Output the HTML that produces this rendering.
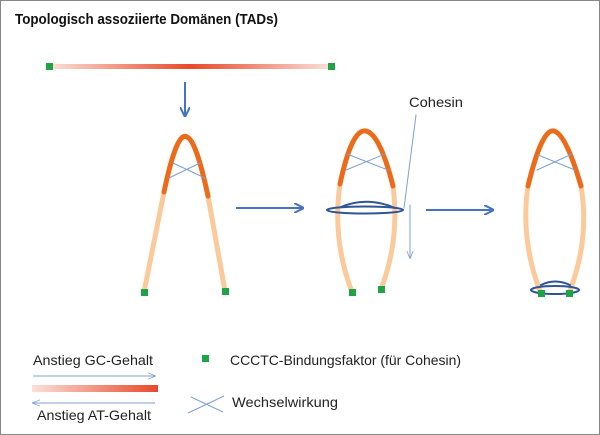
<!DOCTYPE html>
<html><head><meta charset="utf-8"><style>
html,body{margin:0;padding:0;background:#fff}
svg{display:block}
text{font-family:"Liberation Sans",sans-serif}
</style></head><body>
<svg width="600" height="435" viewBox="0 0 600 435">
<defs>
<linearGradient id="g1" x1="0" x2="1"><stop offset="0" stop-color="#fbe0da"/><stop offset="0.5" stop-color="#e8492a"/><stop offset="1" stop-color="#fbe0da"/></linearGradient>
<linearGradient id="g2" x1="0" x2="1"><stop offset="0" stop-color="#fbe0da"/><stop offset="1" stop-color="#e8492a"/></linearGradient>
<marker id="a" viewBox="0 0 10 10" refX="9" refY="5" markerWidth="5" markerHeight="5" orient="auto"><path d="M0,0 L10,5 L0,10" fill="none" stroke="#4472c4" stroke-width="2"/></marker>
<marker id="t" viewBox="0 0 10 10" refX="9" refY="5" markerWidth="8" markerHeight="8" orient="auto"><path d="M0,1 L10,5 L0,9" fill="none" stroke="#7f9fd2" stroke-width="1"/></marker>
</defs>
<rect x="0.5" y="0.5" width="599" height="434" fill="#fff" stroke="#888"/>
<text x="15" y="24" font-size="15" font-weight="bold" fill="#111" textLength="263" lengthAdjust="spacingAndGlyphs">Topologisch assoziierte Domänen (TADs)</text>
<rect x="49" y="64" width="282" height="5" fill="url(#g1)"/>
<rect x="46" y="63" width="7" height="7" fill="#1fa347"/>
<rect x="328" y="63" width="7" height="7" fill="#1fa347"/>
<line x1="185" y1="82" x2="185" y2="116" stroke="#4472c4" stroke-width="2" marker-end="url(#a)"/>
<!-- shape 1 -->
<g fill="none" stroke-linecap="round">
<path d="M164,192 L144,292 M208,196 L225,291" stroke="#fbc99a" stroke-width="5"/>
<path d="M164,192 Q177,130 187,137 Q196,140 208,196" stroke="#ec6b1a" stroke-width="5"/>
<path d="M173,163 L205,178 M169,178 L200,163" stroke="#7f9fd2" stroke-width="1"/>
</g>
<rect x="141" y="289" width="7" height="7" fill="#1fa347"/>
<rect x="222" y="288" width="7" height="7" fill="#1fa347"/>
<line x1="236" y1="208" x2="303" y2="208" stroke="#4472c4" stroke-width="2" marker-end="url(#a)"/>
<!-- shape 2 -->
<g fill="none" stroke-linecap="round">
<path d="M340,184 Q332,240 352,292 M393,186 Q400,240 381,289" stroke="#fbc99a" stroke-width="5"/>
<path d="M340,184 Q352,128 366,131 Q380,134 393,186" stroke="#ec6b1a" stroke-width="5"/>
<path d="M347,154 L388,170 M346,170 L385,154" stroke="#7f9fd2" stroke-width="1"/>
<ellipse cx="365" cy="210" rx="38" ry="3.5" stroke="#2f5597" stroke-width="2"/>
<path d="M341,207 Q367,196 395,208" stroke="#2f5597" stroke-width="2"/>
<line x1="416" y1="115" x2="404" y2="208" stroke="#7f9fd2" stroke-width="1"/>
<line x1="410" y1="205" x2="410" y2="258" stroke="#7f9fd2" stroke-width="1" marker-end="url(#t)"/>
</g>
<rect x="349" y="289" width="7" height="7" fill="#1fa347"/>
<rect x="378" y="286" width="7" height="7" fill="#1fa347"/>
<text x="409" y="107" font-size="14" fill="#222" textLength="54" lengthAdjust="spacingAndGlyphs">Cohesin</text>
<line x1="426" y1="210" x2="493" y2="210" stroke="#4472c4" stroke-width="2" marker-end="url(#a)"/>
<!-- shape 3 -->
<g fill="none" stroke-linecap="round">
<path d="M528,186 Q520,240 541,294 M581,186 Q590,240 569,293" stroke="#fbc99a" stroke-width="5"/>
<path d="M528,186 Q542,128 554,131 Q566,134 581,186" stroke="#ec6b1a" stroke-width="5"/>
<path d="M538,155 L575,170 M537,170 L572,154" stroke="#7f9fd2" stroke-width="1"/>
<ellipse cx="555" cy="290" rx="24" ry="4" stroke="#2f5597" stroke-width="2"/>
<path d="M541,285 Q555,278 570,285" stroke="#2f5597" stroke-width="2"/>
</g>
<rect x="538" y="290" width="7" height="7" fill="#1fa347"/>
<rect x="566" y="290" width="7" height="7" fill="#1fa347"/>
<!-- legend -->
<text x="33" y="365" font-size="14" fill="#222" textLength="120" lengthAdjust="spacingAndGlyphs">Anstieg GC-Gehalt</text>
<line x1="33" y1="376" x2="155" y2="376" stroke="#7f9fd2" stroke-width="1" marker-end="url(#t)"/>
<rect x="32" y="385" width="126" height="7" fill="url(#g2)"/>
<line x1="155" y1="403" x2="33" y2="403" stroke="#7f9fd2" stroke-width="1" marker-end="url(#t)"/>
<text x="37" y="420" font-size="14" fill="#222" textLength="114" lengthAdjust="spacingAndGlyphs">Anstieg AT-Gehalt</text>
<rect x="202" y="355" width="7" height="7" fill="#1fa347"/>
<text x="230" y="365" font-size="14" fill="#222" textLength="231" lengthAdjust="spacingAndGlyphs">CCCTC-Bindungsfaktor (für Cohesin)</text>
<path d="M188,413 L224,396 M191,397 L223,412" stroke="#7f9fd2" stroke-width="1"/>
<text x="232" y="407" font-size="14" fill="#222" textLength="106" lengthAdjust="spacingAndGlyphs">Wechselwirkung</text>
</svg>
</body></html>
